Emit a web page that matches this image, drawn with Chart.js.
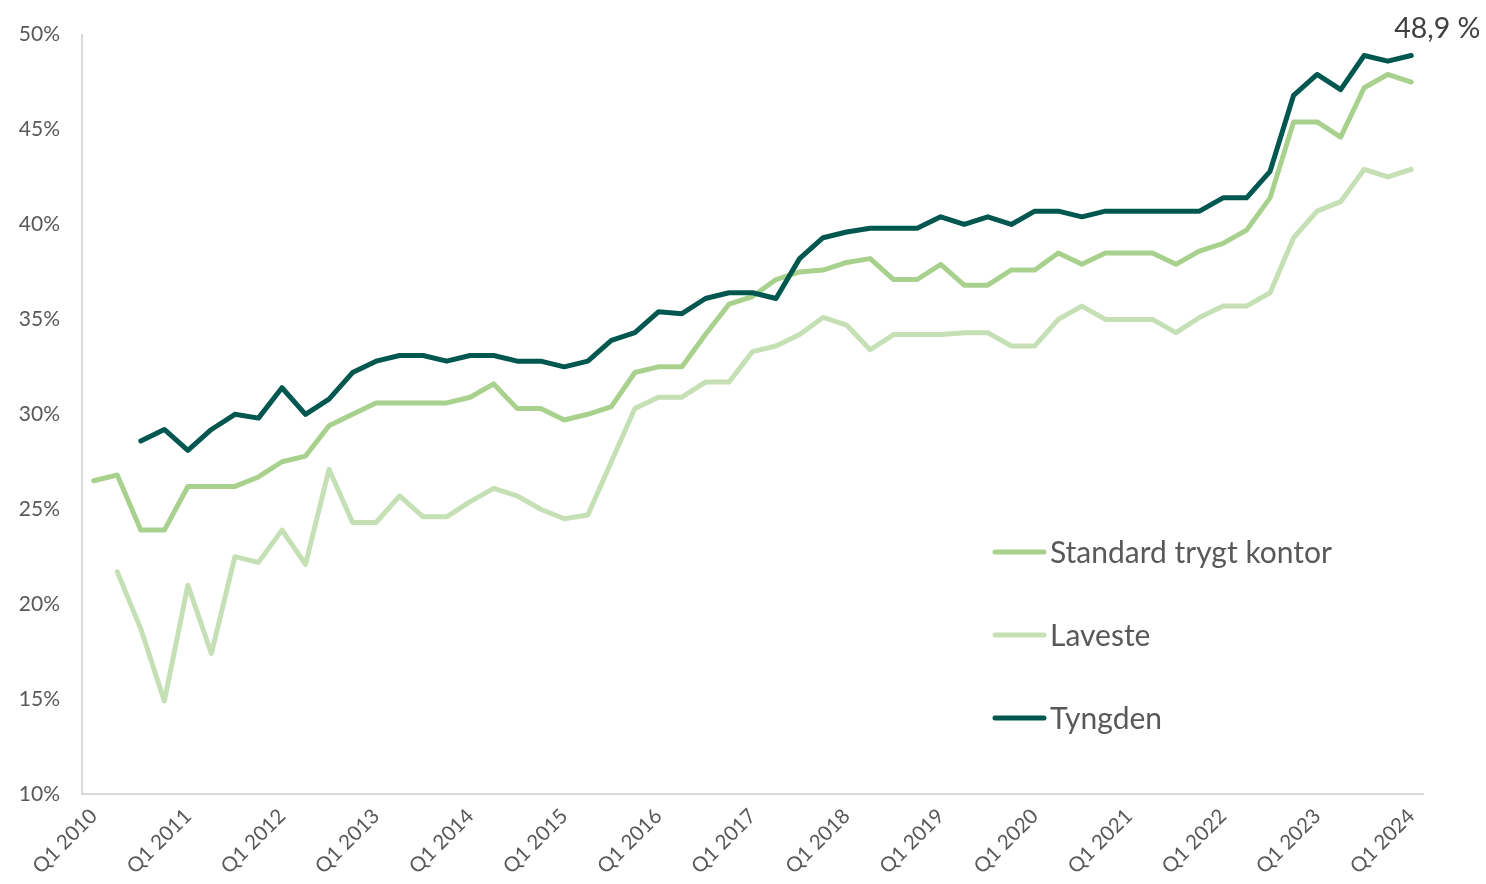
<!DOCTYPE html>
<html>
<head>
<meta charset="utf-8">
<script src="https://cdn.jsdelivr.net/npm/chart.js@4.4.1/dist/chart.umd.min.js"></script>
<style>
  html, body { margin: 0; padding: 0; background: #fff; }
  #wrap { width: 1486px; height: 884px; position: relative; }
</style>
</head>
<body>
<div id="wrap"><canvas id="myChart"></canvas></div>
<script>
const FONT = 'Lato, "Open Sans", sans-serif';
const TEXT_GREY = '#595959';
const AXIS_GREY = '#d9d9d9';

// categories: every quarter from Q1 2010 to Q1 2024
const years = [2010, 2011, 2012, 2013, 2014, 2015, 2016, 2017, 2018, 2019, 2020, 2021, 2022, 2023, 2024];
const quarters = ['Q1', 'Q2', 'Q3', 'Q4'];
const labels = [];
years.forEach(function (y) {
    quarters.forEach(function (q) {
        if (y < 2024 || q === 'Q1') labels.push(q + ' ' + y);
    });
});

const seriesNames = ['Standard trygt kontor', 'Laveste', 'Tyngden'];
const seriesColors = ['#a9d18e', '#c5e0b4', '#00574f'];

const standard = [
    26.5, 26.8, 23.9, 23.9, 26.2, 26.2, 26.2, 26.7, 27.5, 27.8, 29.4, 30.0,
    30.6, 30.6, 30.6, 30.6, 30.9, 31.6, 30.3, 30.3, 29.7, 30.0, 30.4, 32.2,
    32.5, 32.5, 34.2, 35.8, 36.2, 37.1, 37.5, 37.6, 38.0, 38.2, 37.1, 37.1,
    37.9, 36.8, 36.8, 37.6, 37.6, 38.5, 37.9, 38.5, 38.5, 38.5, 37.9, 38.6,
    39.0, 39.7, 41.4, 45.4, 45.4, 44.6, 47.2, 47.9, 47.5
];
const laveste = [
    null, 21.7, 18.7, 14.9, 21.0, 17.4, 22.5, 22.2, 23.9, 22.1, 27.1, 24.3,
    24.3, 25.7, 24.6, 24.6, 25.4, 26.1, 25.7, 25.0, 24.5, 24.7, 27.5, 30.3,
    30.9, 30.9, 31.7, 31.7, 33.3, 33.6, 34.2, 35.1, 34.7, 33.4, 34.2, 34.2,
    34.2, 34.3, 34.3, 33.6, 33.6, 35.0, 35.7, 35.0, 35.0, 35.0, 34.3, 35.1,
    35.7, 35.7, 36.4, 39.3, 40.7, 41.2, 42.9, 42.5, 42.9
];
const tyngden = [
    null, null, 28.6, 29.2, 28.1, 29.2, 30.0, 29.8, 31.4, 30.0, 30.8, 32.2,
    32.8, 33.1, 33.1, 32.8, 33.1, 33.1, 32.8, 32.8, 32.5, 32.8, 33.9, 34.3,
    35.4, 35.3, 36.1, 36.4, 36.4, 36.1, 38.2, 39.3, 39.6, 39.8, 39.8, 39.8,
    40.4, 40.0, 40.4, 40.0, 40.7, 40.7, 40.4, 40.7, 40.7, 40.7, 40.7, 40.7,
    41.4, 41.4, 42.8, 46.8, 47.9, 47.1, 48.9, 48.6, 48.9
];
const endLabel = '48,9 %';

function getDataset(label, data, color, order) {
    return {
        label,
        data,
        borderColor: color,
        backgroundColor: color,
        borderWidth: 5,
        pointRadius: 0,
        borderCapStyle: 'round',
        borderJoinStyle: 'round',
        tension: 0,
        order
    };
}

// legend drawn inside the plot, plus the value label at the end of Tyngden
const sideLegend = {
    id: 'sideLegend',
    afterDraw(chart) {
        const ctx = chart.ctx;
        ctx.save();
        ctx.font = '30px ' + FONT;
        ctx.textBaseline = 'middle';
        ctx.textAlign = 'left';
        ctx.lineCap = 'round';
        chart.data.datasets.forEach(function (ds, i) {
            const y = 552 + i * 83;
            ctx.strokeStyle = ds.borderColor;
            ctx.lineWidth = 5;
            ctx.beginPath();
            ctx.moveTo(995, y);
            ctx.lineTo(1044, y);
            ctx.stroke();
            ctx.fillStyle = TEXT_GREY;
            ctx.fillText(ds.label, 1050, y + 1);
        });

        const meta = chart.getDatasetMeta(2);
        const pt = meta.data[meta.data.length - 1];
        ctx.font = '28.5px ' + FONT;
        ctx.fillStyle = '#404040';
        ctx.textAlign = 'center';
        ctx.fillText(endLabel, pt.x + 26, pt.y - 27);
        ctx.restore();
    }
};

const ctx = document.getElementById('myChart').getContext('2d');
new Chart(ctx, {
    type: 'line',
    data: {
        labels,
        datasets: [
            getDataset(seriesNames[0], standard, seriesColors[0], 2),
            getDataset(seriesNames[1], laveste, seriesColors[1], 3),
            getDataset(seriesNames[2], tyngden, seriesColors[2], 1)
        ]
    },
    options: {
        animation: false,
        responsive: true,
        maintainAspectRatio: false,
        layout: { padding: { top: 34, right: 63, left: 0, bottom: 0 } },
        plugins: {
            legend: { display: false },
            tooltip: { enabled: false }
        },
        scales: {
            x: {
                offset: true,
                grid: { display: false, drawTicks: false },
                border: { display: true, color: AXIS_GREY, width: 2 },
                ticks: {
                    autoSkip: false,
                    maxRotation: 45,
                    minRotation: 45,
                    padding: 10,
                    color: TEXT_GREY,
                    font: { family: FONT, size: 20.5 },
                    callback: function (value, index) {
                        return index % 4 === 0 ? this.getLabelForValue(value) : '';
                    }
                },
                afterFit: function (scale) { scale.height = 90; }
            },
            y: {
                min: 10,
                max: 50,
                grid: { display: false, drawTicks: false },
                border: { display: true, color: AXIS_GREY, width: 2 },
                ticks: {
                    stepSize: 5,
                    padding: 22,
                    color: TEXT_GREY,
                    font: { family: FONT, size: 21 },
                    callback: function (v) { return v + '%'; }
                },
                afterFit: function (scale) { scale.width = 82; }
            }
        }
    },
    plugins: [sideLegend]
});
</script>
</body>
</html>
